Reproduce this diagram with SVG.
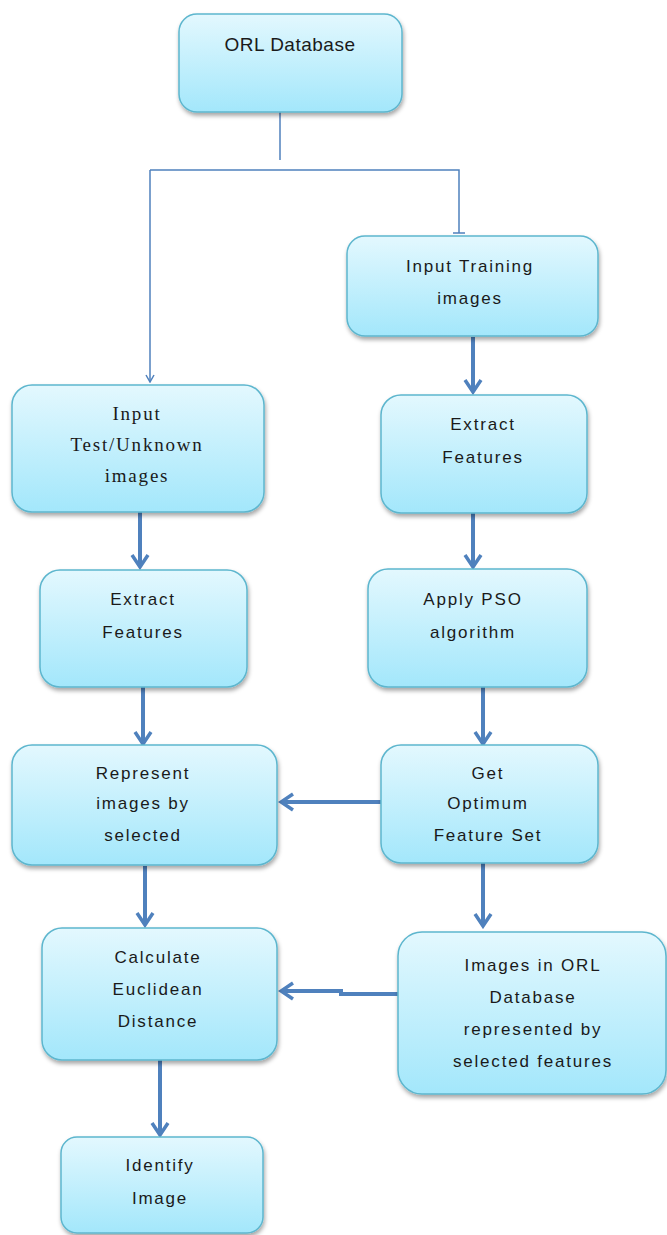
<svg xmlns="http://www.w3.org/2000/svg" width="667" height="1235" viewBox="0 0 667 1235">
<defs>
<linearGradient id="g" x1="0" y1="0" x2="0" y2="1">
<stop offset="0" stop-color="#E3F8FE"/>
<stop offset="1" stop-color="#A3E7FB"/>
</linearGradient>
<filter id="sh" x="-10%" y="-10%" width="125%" height="130%">
<feDropShadow dx="1" dy="3" stdDeviation="2" flood-color="#000" flood-opacity="0.35"/>
</filter>
<marker id="ah" markerWidth="18" markerHeight="20" viewBox="0 0 18 20" refX="15" refY="10" orient="auto" markerUnits="userSpaceOnUse">
<path d="M3,2 L15,10 L3,18" fill="none" stroke="#4F81BD" stroke-width="3.5"/>
</marker>
<marker id="ahs" markerWidth="10" markerHeight="10" viewBox="0 0 10 10" refX="9" refY="5" orient="auto" markerUnits="userSpaceOnUse">
<path d="M2,1 L9,5 L2,9" fill="none" stroke="#4F81BD" stroke-width="1.5"/>
</marker>
</defs>
<style>
.box{fill:url(#g);stroke:#5DB6CE;stroke-width:1.5;filter:url(#sh)}
.t{font-family:"Liberation Sans",Arial,sans-serif;font-size:17px;letter-spacing:1.8px;fill:#1a1a1a;text-anchor:middle}
.s{font-family:"Liberation Serif","Times New Roman",serif;font-size:19px;letter-spacing:1.8px;fill:#1a1a1a;text-anchor:middle}
.thick{stroke:#4F81BD;stroke-width:4;fill:none;marker-end:url(#ah)}
.thin{stroke:#4F81BD;stroke-width:1.5;fill:none}
</style>
<g id="connectors">
<path class="thin" d="M280,112 V160"/>
<path class="thin" d="M150,170 H459 V233"/>
<path class="thin" d="M453,233 H465"/>
<path class="thin" d="M150,170 V382" marker-end="url(#ahs)"/>
<path class="thick" d="M473,337 V392"/>
<path class="thick" d="M473,513 V567"/>
<path class="thick" d="M483,687 V744"/>
<path class="thick" d="M140,512 V567"/>
<path class="thick" d="M143,687 V744"/>
<path class="thick" d="M381,802 H281"/>
<path class="thick" d="M483,858 V926"/>
<path class="thick" d="M145,866 V925"/>
<path class="thick" d="M400,994 H341 V991 H281"/>
<path class="thick" d="M160,1060 V1135"/>
</g>
<g id="orl-database">
<rect class="box" x="179" y="14" width="223" height="98" rx="18"/>
<text class="t" x="290" y="51" style="letter-spacing:0.5px;font-size:19px">ORL Database</text>
</g>
<g id="input-training">
<rect class="box" x="347" y="236" width="251" height="100" rx="18"/>
<text class="t" x="470" y="272">Input Training</text>
<text class="t" x="470" y="304">images</text>
</g>
<g id="input-test">
<rect class="box" x="12" y="385" width="252" height="127" rx="20"/>
<text class="s" x="137" y="420">Input</text>
<text class="s" x="137" y="451">Test/Unknown</text>
<text class="s" x="137" y="482">images</text>
</g>
<g id="extract-right">
<rect class="box" x="381" y="395" width="206" height="118" rx="20"/>
<text class="t" x="483" y="430">Extract</text>
<text class="t" x="483" y="463">Features</text>
</g>
<g id="extract-left">
<rect class="box" x="40" y="570" width="207" height="117" rx="20"/>
<text class="t" x="143" y="605">Extract</text>
<text class="t" x="143" y="638">Features</text>
</g>
<g id="apply-pso">
<rect class="box" x="368" y="569" width="219" height="118" rx="20"/>
<text class="t" x="473" y="605">Apply PSO</text>
<text class="t" x="473" y="638">algorithm</text>
</g>
<g id="represent">
<rect class="box" x="12" y="745" width="265" height="120" rx="20"/>
<text class="t" x="143" y="779">Represent</text>
<text class="t" x="143" y="809">images by</text>
<text class="t" x="143" y="841">selected</text>
</g>
<g id="get-optimum">
<rect class="box" x="381" y="745" width="217" height="118" rx="20"/>
<text class="t" x="488" y="779">Get</text>
<text class="t" x="488" y="809">Optimum</text>
<text class="t" x="488" y="841">Feature Set</text>
</g>
<g id="calculate">
<rect class="box" x="42" y="928" width="235" height="132" rx="20"/>
<text class="t" x="158" y="963">Calculate</text>
<text class="t" x="158" y="995">Euclidean</text>
<text class="t" x="158" y="1027">Distance</text>
</g>
<g id="images-orl">
<rect class="box" x="398" y="932" width="268" height="162" rx="24"/>
<text class="t" x="533" y="971">Images in ORL</text>
<text class="t" x="533" y="1003">Database</text>
<text class="t" x="533" y="1035">represented by</text>
<text class="t" x="533" y="1067">selected features</text>
</g>
<g id="identify">
<rect class="box" x="61" y="1137" width="202" height="96" rx="16"/>
<text class="t" x="160" y="1171">Identify</text>
<text class="t" x="160" y="1204">Image</text>
</g>
</svg>
